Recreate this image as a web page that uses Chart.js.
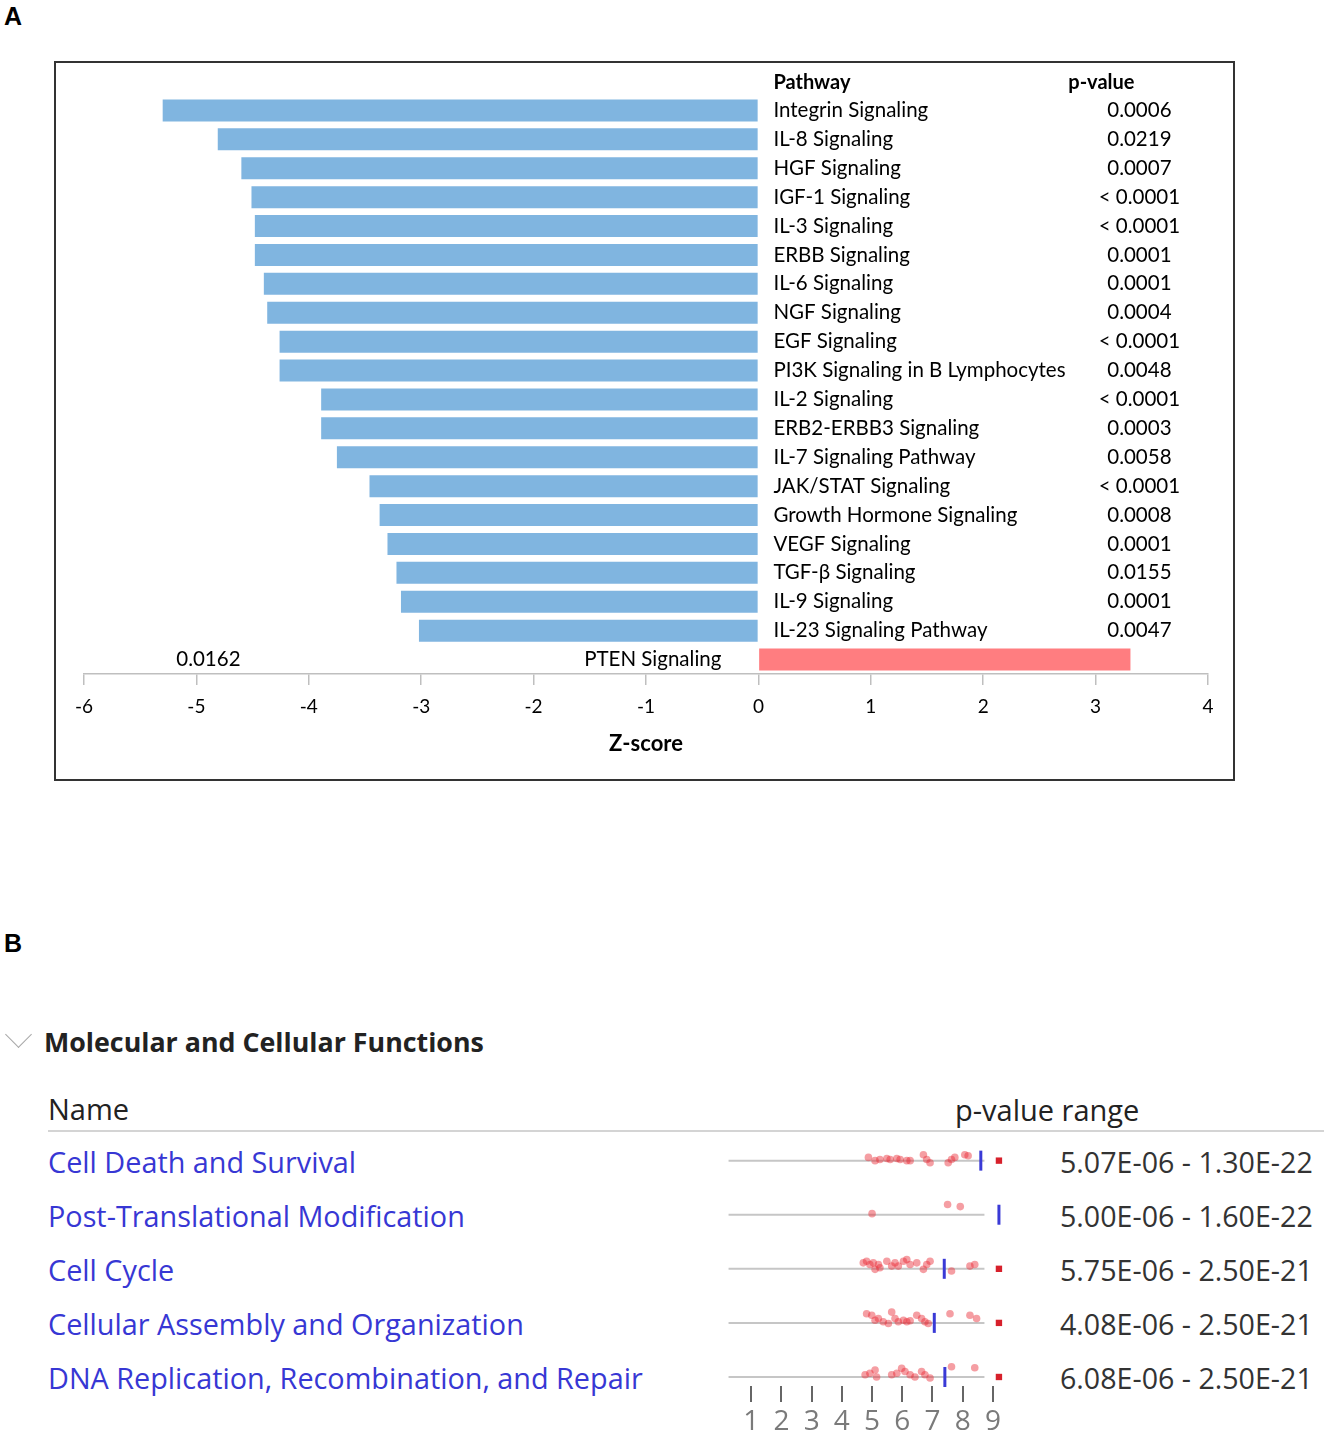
<!DOCTYPE html>
<html>
<head>
<meta charset="utf-8">
<script src="https://cdn.jsdelivr.net/npm/chart.js@4.4.1/dist/chart.umd.min.js"></script>
<style>
  html, body { margin: 0; padding: 0; background: #fff; }
  body { width: 1324px; height: 1432px; position: relative; overflow: hidden; font-family: "Open Sans", sans-serif; }
  .abs { position: absolute; white-space: nowrap; }
  .letter { font-family: "Liberation Sans", Arial, sans-serif; font-weight: bold; font-size: 25px; color: #000; line-height: 28px; }
  #boxA { position: absolute; left: 54px; top: 61px; width: 1181px; height: 720px; border: 2px solid #333; box-sizing: border-box; }
  #chartA { position: absolute; left: 0; top: 0; }
  #chartB { position: absolute; left: 720px; top: 1139px; }
  .fnName { color: #3737d4; font-size: 28.8px; line-height: 40px; }
  .range { color: #333; font-size: 28.6px; line-height: 40px; }
  .head { color: #222; font-size: 29px; line-height: 40px; }
  #chevron { position: absolute; left: 9px; top: 1025px; width: 19px; height: 19px; border-right: 1.5px solid #a8a8a8; border-bottom: 1.5px solid #a8a8a8; transform: rotate(45deg); box-sizing: border-box; }
  #sep { position: absolute; left: 48px; top: 1130px; width: 1276px; height: 2px; background: #d4d4d4; }
</style>
</head>
<body>
<div class="abs letter" style="left:4px; top:2px;">A</div>
<div class="abs letter" style="left:4px; top:929px;">B</div>

<div id="boxA"><canvas id="chartA" width="1177" height="716"></canvas></div>

<div id="chevron"></div>
<div class="abs" style="left:44px; top:1022px; font-weight:bold; font-size:26.8px; line-height:40px; color:#222;">Molecular and Cellular Functions</div>
<div class="abs head" style="left:48px; top:1089px;">Name</div>
<div class="abs head" style="left:955px; top:1090px;">p-value range</div>
<div id="sep"></div>
<div id="rowsB"></div>

<canvas id="chartB" width="290" height="293"></canvas>

<script>
// ---- Panel A data ----
const pathways = [
  "Integrin Signaling", "IL-8 Signaling", "HGF Signaling", "IGF-1 Signaling",
  "IL-3 Signaling", "ERBB Signaling", "IL-6 Signaling", "NGF Signaling",
  "EGF Signaling", "PI3K Signaling in B Lymphocytes", "IL-2 Signaling",
  "ERB2-ERBB3 Signaling", "IL-7 Signaling Pathway", "JAK/STAT Signaling",
  "Growth Hormone Signaling", "VEGF Signaling", "TGF-\u03b2 Signaling",
  "IL-9 Signaling", "IL-23 Signaling Pathway", "PTEN Signaling"
];
const zScores = [
  -5.30, -4.81, -4.60, -4.51, -4.48, -4.48, -4.40, -4.37, -4.26, -4.26,
  -3.89, -3.89, -3.75, -3.46, -3.37, -3.30, -3.22, -3.18, -3.02, 3.31
];
const pValues = [
  "0.0006", "0.0219", "0.0007", "< 0.0001", "< 0.0001", "0.0001", "0.0001",
  "0.0004", "< 0.0001", "0.0048", "< 0.0001", "0.0003", "0.0058", "< 0.0001",
  "0.0008", "0.0001", "0.0155", "0.0001", "0.0047", "0.0162"
];
const zTicks = [-6, -5, -4, -3, -2, -1, 0, 1, 2, 3, 4];

// ---- Panel B data ----
const functionNames = [
  "Cell Death and Survival", "Post-Translational Modification", "Cell Cycle",
  "Cellular Assembly and Organization", "DNA Replication, Recombination, and Repair"
];
const pRanges = [
  "5.07E-06 - 1.30E-22", "5.00E-06 - 1.60E-22", "5.75E-06 - 2.50E-21",
  "4.08E-06 - 2.50E-21", "6.08E-06 - 2.50E-21"
];
// red dots per row: position on the scale and small vertical lift (row units)
const dotX = [
  [4.88, 5.10, 5.26, 5.49, 5.60, 5.82, 5.93, 6.15, 6.26, 6.70, 6.81, 6.92, 7.52, 7.63, 7.74, 8.07, 8.18],
  [5.00, 7.50, 7.92],
  [4.71, 4.82, 4.93, 5.04, 5.10, 5.21, 5.26, 5.49, 5.65, 5.76, 5.87, 6.04, 6.15, 6.26, 6.48, 6.70, 6.81, 6.92, 7.63, 8.24, 8.40],
  [4.82, 4.99, 5.10, 5.21, 5.37, 5.54, 5.65, 5.76, 5.87, 6.04, 6.15, 6.26, 6.48, 6.64, 6.75, 6.86, 7.58, 8.24, 8.46],
  [4.77, 4.93, 5.10, 5.15, 5.65, 5.82, 5.98, 6.09, 6.26, 6.42, 6.64, 6.75, 6.92, 7.63, 8.40]
];
const dotLift = [
  [-0.06, 0, -0.02, -0.04, -0.02, -0.04, -0.02, 0, 0, -0.11, -0.02, 0.04, 0.04, -0.02, -0.06, -0.11, -0.09],
  [-0.02, -0.19, -0.15],
  [-0.11, -0.14, -0.08, -0.11, 0.01, -0.08, -0.02, -0.14, -0.05, -0.11, -0.05, -0.14, -0.17, -0.08, -0.11, 0.01, -0.08, -0.14, 0.04, -0.05, -0.08],
  [-0.17, -0.14, -0.05, -0.08, -0.02, 0.01, -0.2, -0.08, -0.02, -0.05, -0.02, -0.04, -0.14, -0.08, -0.02, 0.01, -0.17, -0.14, -0.08],
  [-0.04, -0.07, -0.13, 0, -0.04, -0.07, -0.16, -0.1, -0.04, 0, -0.1, -0.04, 0.02, -0.19, -0.17]
];
const thresholdX = [8.60, 9.20, 7.39, 7.06, 7.41];
const squareX = [9.20, null, 9.20, 9.20, 9.20];
const lineRange = [0.25, 8.72];
const bTicks = [1, 2, 3, 4, 5, 6, 7, 8, 9];

// ---- Panel A chart ----
const labelPlugin = {
  id: "pathwayLabels",
  afterDatasetsDraw(chart) {
    const ctx = chart.ctx;
    const zero = chart.scales.x.getPixelForValue(0);
    const bars = chart.getDatasetMeta(0).data;
    ctx.save();
    ctx.fillStyle = "#000";
    ctx.textBaseline = "middle";
    ctx.font = "bold 20px Lato";
    ctx.textAlign = "left";
    ctx.fillText("Pathway", zero + 15, bars[0].y - 28);
    ctx.textAlign = "center";
    ctx.fillText("p-value", zero + 343, bars[0].y - 28);
    ctx.font = "20.5px Lato";
    bars.forEach((bar, i) => {
      if (zScores[i] < 0) {
        ctx.textAlign = "left";
        ctx.fillText(pathways[i], zero + 15, bar.y);
        ctx.textAlign = "center";
        ctx.fillText(pValues[i], zero + 381, bar.y);
      } else {
        ctx.textAlign = "right";
        ctx.fillText(pathways[i], zero - 37, bar.y);
        ctx.textAlign = "center";
        ctx.fillText(pValues[i], zero - 550, bar.y);
      }
    });
    ctx.restore();
  }
};

new Chart(document.getElementById("chartA"), {
  type: "bar",
  data: {
    labels: pathways,
    datasets: [{
      data: zScores,
      backgroundColor: zScores.map(v => v < 0 ? "#80b5e0" : "#ff7d80"),
      barPercentage: 0.76,
      categoryPercentage: 1
    }]
  },
  options: {
    indexAxis: "y",
    responsive: false,
    animation: false,
    layout: { autoPadding: false, padding: { left: 28, right: 25, top: 33, bottom: 0 } },
    plugins: { legend: { display: false }, tooltip: { enabled: false } },
    scales: {
      y: { display: false },
      x: {
        min: -6, max: 4,
        afterBuildTicks: s => { s.ticks = zTicks.map(v => ({ value: v })); },
        afterFit: s => { s.height = 105; },
        grid: { drawOnChartArea: false, drawTicks: true, tickLength: 11, color: "#bfbfbf", lineWidth: 1.5 },
        border: { display: true, color: "#bfbfbf", width: 1.5 },
        ticks: { color: "#000", font: { family: "Lato", size: 19 }, padding: 10 },
        title: { display: true, text: "Z-score", color: "#000", font: { family: "Lato", size: 22, weight: "bold" }, padding: { top: 0, bottom: 22 } }
      }
    }
  },
  plugins: [labelPlugin]
});

// ---- Panel B text rows ----
const rowsB = document.getElementById("rowsB");
functionNames.forEach((name, i) => {
  const cy = 1162 + i * 54;
  const n = document.createElement("div");
  n.className = "abs fnName";
  n.style.left = "48px";
  n.style.top = (cy - 20) + "px";
  n.textContent = name;
  rowsB.appendChild(n);
  const r = document.createElement("div");
  r.className = "abs range";
  r.style.left = "1060px";
  r.style.top = (cy - 20) + "px";
  r.textContent = pRanges[i];
  rowsB.appendChild(r);
});

// ---- Panel B dot strip ----
const rows = functionNames.map((_, i) => i + 1);
const datasetsB = [];
datasetsB.push({
  type: "scatter",
  data: thresholdX.map((x, i) => ({ x, y: rows[i] })),
  pointStyle: "line", rotation: 90, pointRadius: 10,
  borderColor: "#3a3ad6", borderWidth: 3, backgroundColor: "#3a3ad6"
});
datasetsB.push({
  type: "scatter",
  data: squareX.map((x, i) => x === null ? null : ({ x, y: rows[i] })).filter(p => p),
  pointStyle: "rect", pointRadius: 4.5,
  backgroundColor: "#d7202b", borderWidth: 0
});
datasetsB.push({
  type: "scatter",
  data: dotX.flatMap((xs, i) => xs.map((x, j) => ({ x, y: rows[i] + dotLift[i][j] }))),
  pointRadius: 3.8, backgroundColor: "rgba(232,40,52,0.45)", borderWidth: 0
});
rows.forEach(r => {
  datasetsB.push({
    type: "line",
    data: [{ x: lineRange[0], y: r }, { x: lineRange[1], y: r }],
    borderColor: "#c6c6c6", borderWidth: 2, pointRadius: 0
  });
});

new Chart(document.getElementById("chartB"), {
  type: "scatter",
  data: { datasets: datasetsB },
  options: {
    responsive: false,
    animation: false,
    clip: false,
    layout: { autoPadding: false, padding: { left: 1, right: 2, top: 0, bottom: 0 } },
    plugins: { legend: { display: false }, tooltip: { enabled: false } },
    datasets: { scatter: { clip: false }, line: { clip: false } },
    scales: {
      y: { type: "linear", reverse: true, min: 0.6, max: 5.1667, display: false },
      x: {
        type: "linear", min: 0, max: 9.5,
        afterBuildTicks: s => { s.ticks = bTicks.map(v => ({ value: v })); },
        afterFit: s => { s.height = 46; },
        grid: { drawOnChartArea: false, drawTicks: true, tickLength: 16, color: "#666", lineWidth: 2 },
        border: { display: false },
        ticks: { color: "#7a7a7a", font: { family: "Open Sans", size: 28 }, padding: 3 }
      }
    }
  }
});
</script>
</body>
</html>
